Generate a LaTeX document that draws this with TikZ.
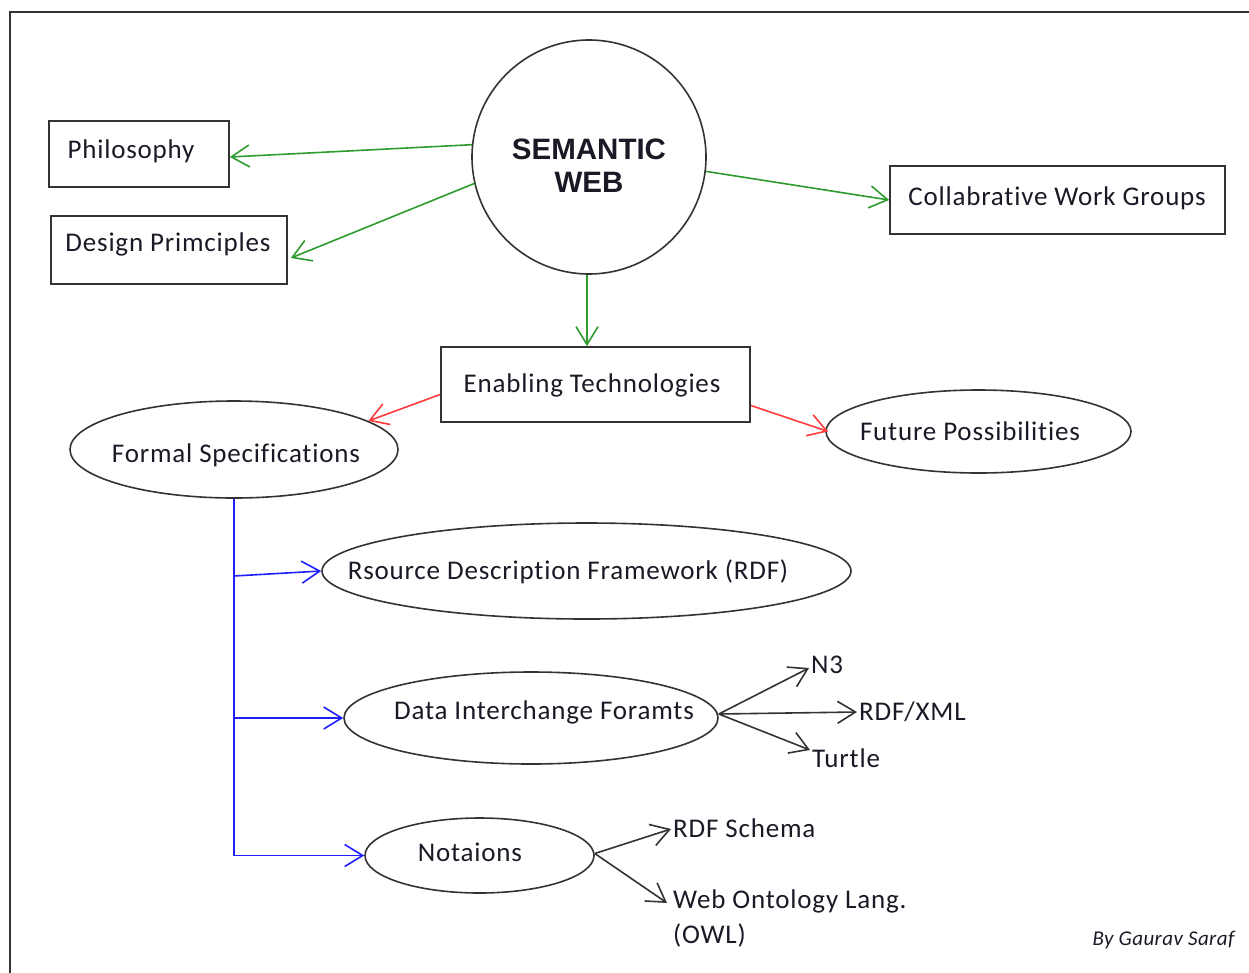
\documentclass[tikz,border=0pt]{standalone}
\usepackage{fontspec}
\setmainfont{Carlito}[LetterSpace=3,Ligatures=NoCommon]
\newfontfamily\boldsans{Liberation Sans}
\newfontfamily\creditfont{Carlito}[LetterSpace=2,Ligatures=NoCommon]
\usetikzlibrary{shapes.geometric,arrows.meta}
\definecolor{txt}{HTML}{1A1A26}
\definecolor{edge}{HTML}{333333}
\definecolor{grn}{HTML}{2E9B2E}
\definecolor{rd}{HTML}{FF3C3C}
\definecolor{blu}{HTML}{2020FF}
\tikzset{
  box/.style={draw=edge, line width=1.7pt, rectangle, inner sep=0pt},
  oval/.style={draw=edge, line width=1.6pt, ellipse, inner sep=0pt},
  lbl/.style={text=txt, font=\fontsize{27}{31}\selectfont, inner sep=2pt},
  conn/.style={line width=1.6pt, -{Straight Barb[length=18pt,width=22pt,line width=1.6pt]}},
}
\begin{document}
\begin{tikzpicture}[x=1pt,y=-1pt]
\useasboundingbox (0,0) rectangle (1249,972);
\draw[edge, line width=1.7pt] (10,980) -- (10,12) -- (1260,12);
% shapes
\node[draw=edge, line width=1.6pt, circle, minimum size=234pt, inner sep=0pt] (sw) at (589,157) {};
\node[font=\boldsans\bfseries\fontsize{29.5}{33}\selectfont, text=txt, align=center] (swt) at (589,166) {SEMANTIC\\WEB};
\node[box, minimum width=180pt, minimum height=66pt] (phil) at (139,154) {};
\node[lbl] (philt) at (131,151) {Philosophy};
\node[box, minimum width=236pt, minimum height=68pt] (des) at (169,250) {};
\node[lbl] (dest) at (168,244) {Design Primciples};
\node[box, minimum width=335pt, minimum height=68pt] (col) at (1057.5,200) {};
\node[lbl] (colt) at (1057,198) {Collabrative Work Groups};
\node[box, minimum width=309pt, minimum height=75pt] (en) at (595.5,384.5) {};
\node[lbl] (ent) at (592,385) {Enabling Technologies};
\node[oval, minimum width=328pt, minimum height=97pt] (fs) at (234,449.5) {};
\node[lbl] (fst) at (236,455) {Formal Specifications};
\node[oval, minimum width=305pt, minimum height=83pt] (fp) at (978.5,431.5) {};
\node[lbl] (fpt) at (970,431) {Future Possibilities};
\node[oval, minimum width=529pt, minimum height=96pt] (rdf) at (586.5,571) {};
\node[lbl] (rdft) at (568,572) {Rsource Description Framework (RDF)};
\node[oval, minimum width=374pt, minimum height=92pt] (di) at (531,718) {};
\node[lbl] (dit) at (544,712) {Data Interchange Foramts};
\node[oval, minimum width=229pt, minimum height=75pt] (no) at (479.5,855.5) {};
\node[lbl] (not) at (470,852) {Notaions};
% leaf labels
\node[lbl, anchor=west] (n3) at (809,665) {N3};
\node[lbl, anchor=west] (rx) at (857,712) {RDF/XML};
\node[lbl, anchor=west] (tu) at (810,758) {Turtle};
\node[lbl, anchor=west] (rs) at (671,828) {RDF Schema};
\node[lbl, anchor=north west, align=left, font=\fontsize{27}{35}\selectfont] (owl) at (671,888) {Web Ontology Lang.\\(OWL)};
\node[text=txt, font=\creditfont\itshape\fontsize{21}{24}\selectfont, anchor=east] (by) at (1238,940) {By Gaurav Saraf};
% green connectors
\draw[conn, grn] (sw.174.6) -- ([yshift=-3pt]phil.east);
\draw[conn, grn] (sw.193.2) -- ([yshift=-8pt,xshift=3pt]des.east);
\draw[conn, grn] (sw.353) -- (col.west);
\draw[conn, grn] ([xshift=-2pt]sw.south) -- ([xshift=-2pt]sw.south |- en.north);
% red connectors
\draw[conn, rd] ([yshift=-10pt]en.west) -- (fs.12.7);
\draw[conn, rd] ([yshift=-21pt]en.east) -- ([xshift=3pt]fp.west);
% blue connectors
\draw[line width=1.6pt, blu] (fs.south) -- (fs.south |- no.west);
\draw[conn, blu] ([yshift=-5pt]fs.south |- rdf.west) -- (rdf.west);
\draw[conn, blu] (fs.south |- di.west) -- (di.west);
\draw[conn, blu] (fs.south |- no.west) -- (no.west);
% black connectors
\draw[conn, edge] ([yshift=4pt]di.east) -- ([yshift=-3pt]n3.west);
\draw[conn, edge] ([yshift=4pt]di.east) -- (rx.west);
\draw[conn, edge] ([yshift=4pt]di.east) -- ([yshift=8pt]tu.west);
\draw[conn, edge] ([yshift=2pt]no.east) -- ([yshift=-1pt]rs.west);
\draw[conn, edge] ([yshift=2pt]no.east) -- ([yshift=16pt,xshift=-4pt]owl.west);
\end{tikzpicture}
\end{document}
